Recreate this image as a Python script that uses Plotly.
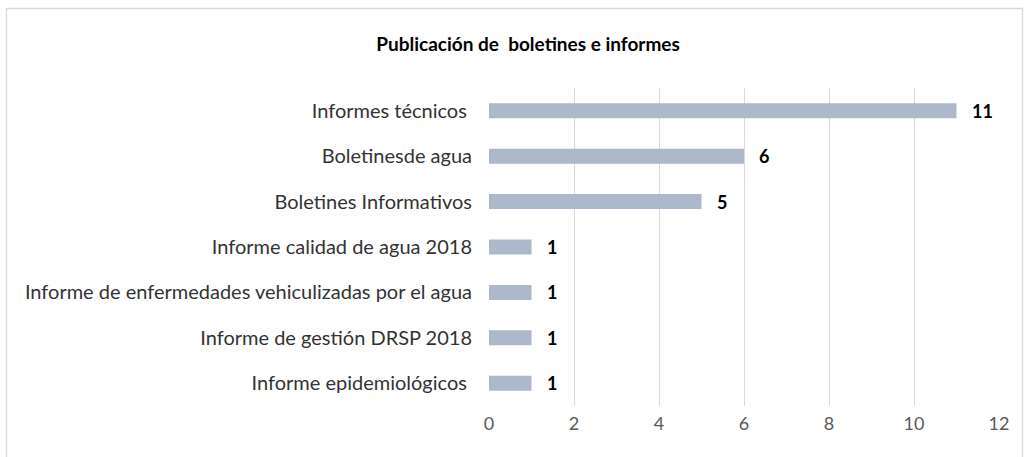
import plotly.graph_objects as go

categories = [
    "Informes técnicos ",
    "Boletinesde agua",
    "Boletines Informativos",
    "Informe calidad de agua 2018",
    "Informe de enfermedades vehiculizadas por el agua",
    "Informe de gestión DRSP 2018",
    "Informe epidemiológicos ",
]
values = [11, 6, 5, 1, 1, 1, 1]
x_ticks = [0, 2, 4, 6, 8, 10, 12]
title_text = "Publicación de  boletines e informes"

FONT = "Lato"
W, H = 1029, 457
L, R, T, B = 489, 30, 88, 51

fig = go.Figure()
fig.add_trace(go.Bar(
    y=categories, x=values, orientation="h",
    marker=dict(color="#adb9ca", line=dict(width=0)),
    hoverinfo="skip",
))
for c, v in zip(categories, values):
    fig.add_annotation(x=v, y=c, text=f"<b>{v}</b>", showarrow=False,
                       xanchor="left", xshift=13,
                       font=dict(family=FONT, size=18, color="#000000"))

pw = W - L - R
ph = H - T - B
def px_to_paper_x(px):
    return (px - L) / pw
def py_to_paper_y(py):
    return (H - B - py) / ph

fig.add_shape(type="rect", xref="paper", yref="paper",
              x0=px_to_paper_x(6.5), x1=px_to_paper_x(1022.5),
              y0=py_to_paper_y(462), y1=py_to_paper_y(8.5),
              line=dict(color="#d9d9d9", width=1.3), layer="below")

fig.update_layout(
    width=W, height=H,
    margin=dict(l=L, r=R, t=T, b=B),
    paper_bgcolor="white", plot_bgcolor="white",
    bargap=0.67,
    showlegend=False,
    title=dict(text=f"<b>{title_text}</b>", x=528 / W, xanchor="center",
               y=1 - 44 / H, yanchor="middle",
               font=dict(family=FONT, size=19, color="#000000")),
    xaxis=dict(range=[0, 12], tickvals=x_ticks, showgrid=True, gridcolor="#d9d9d9",
               gridwidth=1.3, zeroline=False, showline=False, ticks="",
               ticklabelstandoff=5,
               tickfont=dict(family=FONT, size=18, color="#595959")),
    yaxis=dict(categoryorder="array", categoryarray=categories, autorange="reversed",
               showgrid=False, zeroline=False, showline=False, ticks="",
               ticklabelstandoff=16,
               tickfont=dict(family=FONT, size=20, color="#333333")),
)
fig.write_html("out.html", config={"displayModeBar": False},
               post_script="document.body.style.margin='0';")
